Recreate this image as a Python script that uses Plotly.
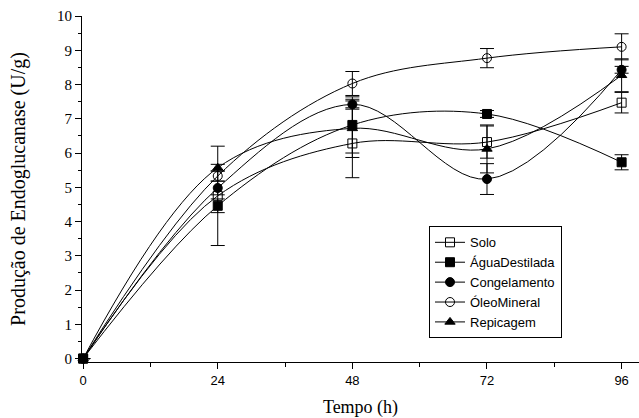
import plotly.graph_objects as go

tempo = [0, 24, 48, 72, 96]
series_names = ["Solo", "ÁguaDestilada", "Congelamento", "ÓleoMineral", "Repicagem"]
solo = [0, 4.75, 6.28, 6.32, 7.47]
solo_err = [0, 1.45, 1.0, 0.47, 0.3]
agua = [0, 4.46, 6.82, 7.14, 5.73]
agua_err = [0, 0.2, 0.82, 0.1, 0.22]
congelamento = [0, 4.98, 7.42, 5.24, 8.43]
congelamento_err = [0, 0.2, 0.1, 0.45, 0.1]
oleo = [0, 5.33, 8.03, 8.77, 9.1]
oleo_err = [0, 0.15, 0.35, 0.28, 0.38]
repicagem = [0, 5.57, 6.72, 6.12, 8.27]
repicagem_err = [0, 0.1, 0.85, 0.7, 0.48]

x_ticks = [0, 24, 48, 72, 96]
y_ticks = list(range(0, 11))

values = [solo, agua, congelamento, oleo, repicagem]
errors = [solo_err, agua_err, congelamento_err, oleo_err, repicagem_err]
symbols = ["square-open", "square", "circle", "circle-open", "triangle-up"]

fig = go.Figure()
for name, y, e, sym in zip(series_names, values, errors, symbols):
    fig.add_trace(go.Scatter(
        x=tempo, y=y, name=name, mode="lines+markers",
        line=dict(color="black", width=1, shape="spline", smoothing=1.0),
        marker=dict(symbol=sym, size=9, color="black",
                    line=dict(color="black", width=1)),
        error_y=dict(type="data", array=e, visible=True, color="black",
                     thickness=1, width=7),
        cliponaxis=False,
    ))

fig.update_layout(
    width=639, height=418,
    margin=dict(l=82, r=0, t=16, b=56, autoexpand=False),
    plot_bgcolor="white", paper_bgcolor="white",
    showlegend=True,
    legend=dict(x=0.623, y=0.392, xanchor="left", yanchor="top",
                bordercolor="black", borderwidth=1, bgcolor="white",
                font=dict(family="Liberation Sans, Arial", size=13, color="black"),
                tracegroupgap=0, itemsizing="trace"),
    xaxis=dict(range=[-0.2, 99.1], tickvals=x_ticks, ticktext=[str(v) for v in x_ticks],
               automargin=False,
               showline=True, linecolor="black", linewidth=1,
               ticks="outside", ticklen=6, tickcolor="black",
               minor=dict(dtick=12, tick0=0, ticks="outside", ticklen=4, tickcolor="black"),
               showgrid=False, zeroline=False,
               tickfont=dict(family="Liberation Sans, Arial", size=13, color="black"),
               title=dict(text="Tempo (h)", standoff=14,
                          font=dict(family="Liberation Serif, Times New Roman", size=18, color="black"))),
    yaxis=dict(range=[-0.1, 10], tickvals=y_ticks,
               automargin=False,
               showline=True, linecolor="black", linewidth=1,
               ticks="outside", ticklen=6, tickcolor="black",
               minor=dict(dtick=0.5, tick0=0, ticks="outside", ticklen=3, tickcolor="black"),
               showgrid=False, zeroline=False,
               tickfont=dict(family="Liberation Serif, Times New Roman", size=15, color="black"),
               title=dict(text="Produção de Endoglucanase (U/g)", standoff=26,
                          font=dict(family="Liberation Serif, Times New Roman", size=20, color="black"))),
)

fig.write_html("out.html", config={"displayModeBar": False},
               post_script="document.body.style.margin='0';document.body.style.overflow='hidden';")
